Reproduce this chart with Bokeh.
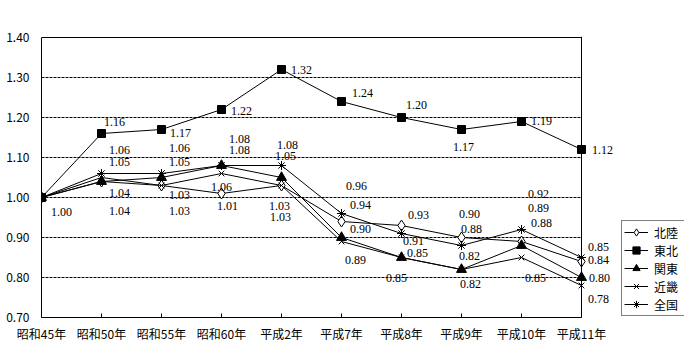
from bokeh.plotting import figure
from bokeh.models import (ColumnDataSource, Range1d, FixedTicker, Legend, LegendItem,
                          NumeralTickFormatter, LabelSet, Span)
from bokeh.embed import file_html
from bokeh.resources import INLINE

categories = ["昭和45年", "昭和50年", "昭和55年", "昭和60年", "平成2年",
              "平成7年", "平成8年", "平成9年", "平成10年", "平成11年"]
hokuriku = [1.00, 1.04, 1.03, 1.01, 1.03, 0.94, 0.93, 0.90, 0.89, 0.84]
tohoku = [1.00, 1.16, 1.17, 1.22, 1.32, 1.24, 1.20, 1.17, 1.19, 1.12]
kanto = [1.00, 1.04, 1.05, 1.08, 1.05, 0.90, 0.85, 0.82, 0.88, 0.80]
kinki = [1.00, 1.05, 1.03, 1.06, 1.03, 0.89, 0.85, 0.82, 0.85, 0.78]
zenkoku = [1.00, 1.06, 1.06, 1.08, 1.08, 0.96, 0.91, 0.88, 0.92, 0.85]
series_names = ["北陸", "東北", "関東", "近畿", "全国"]
y_ticks = [0.70, 0.80, 0.90, 1.00, 1.10, 1.20, 1.30, 1.40]

# label offsets in screen pixels, (right, down); None = label not shown
off_hokuriku = [None, (18, 29), (18, 9), (6, 12), (-2, 20), (19, -17), (17, -11), (8, -24), (17, -34), (17, -2)]
off_tohoku = [(20, 14), (13, -12), (19, 3), (20, 1), (20, 0), (21, -9), (15, -13), (2, 17), (20, -1), (21, 0)]
off_kanto = [None, (18, 11), (18, -16), (18, -16), (4, -22), (19, -9), (16, -5), (8, -14), (20, -23), (18, 0)]
off_kinki = [None, (18, -16), (18, 25), (0, 13), (-1, 31), (14, 18), (-5, 20), (9, 14), (14, 20), (17, 13)]
off_zenkoku = [None, (18, -24), (18, -26), (18, -27), (6, -21), (15, -28), (12, 7), (10, -17), (17, -36), (17, -11)]

# layout (pixels)
W, H = 684, 344
LEFT, TOP, BOTTOM = 41, 36, 317
BOX_RIGHT = 581          # pixel where the last category sits
xs = list(range(len(categories)))
px_per_cat = (BOX_RIGHT - LEFT) / (len(categories) - 1)
x_end = (W - LEFT) / px_per_cat
px_per_unit_y = (BOTTOM - (TOP + 1)) / (y_ticks[-1] - y_ticks[0])
y_end = y_ticks[-1] + 1 / px_per_unit_y

p = figure(width=W, height=H, output_backend="svg", toolbar_location=None,
           x_range=Range1d(0, x_end), y_range=Range1d(y_ticks[0], y_end),
           min_border_left=LEFT, min_border_right=0, min_border_top=TOP,
           min_border_bottom=H - BOTTOM)
p.outline_line_color = None
p.background_fill_color = "white"
p.border_fill_color = "white"

p.xaxis.ticker = FixedTicker(ticks=xs)
p.xaxis.major_label_overrides = {i: c for i, c in enumerate(categories)}
p.xaxis.bounds = (xs[0], xs[-1])
p.xaxis.major_tick_in = 4
p.xaxis.major_tick_out = 0
p.xaxis.major_tick_line_color = "black"
p.xaxis.minor_tick_line_color = None
p.xaxis.major_label_standoff = 7
p.yaxis.ticker = FixedTicker(ticks=y_ticks)
p.yaxis.formatter = NumeralTickFormatter(format="0.00")
p.yaxis.major_tick_line_color = None
p.yaxis.minor_tick_line_color = None
p.yaxis.major_tick_out = 0
p.yaxis.major_tick_in = 0
p.yaxis.major_label_standoff = 12
p.yaxis.bounds = (y_ticks[0], y_ticks[-1])
for ax in (p.xaxis[0], p.yaxis[0]):
    ax.axis_line_color = "black"
    ax.major_label_text_font = "Noto Sans CJK JP"
    ax.major_label_text_font_size = "12px"
    ax.major_label_text_color = "black"

p.xgrid.grid_line_color = None
p.ygrid.grid_line_color = None

# dashed horizontal gridlines restricted to the category span
gy = y_ticks[1:-1]
p.segment(x0=[xs[0]] * len(gy), x1=[xs[-1]] * len(gy), y0=gy, y1=gy,
          line_color="black", line_width=1, line_dash="3 1")
# box: top edge and right edge
p.segment(x0=[xs[0]], x1=[xs[-1]], y0=[y_ticks[-1]], y1=[y_ticks[-1]],
          line_color="black", line_width=1)
p.add_layout(Span(location=xs[-1], dimension="height", line_color="black", line_width=1))

all_series = [hokuriku, tohoku, kanto, kinki, zenkoku]
all_offsets = [off_hokuriku, off_tohoku, off_kanto, off_kinki, off_zenkoku]
markers = [
    dict(marker="diamond", size=11, fill_color="white", line_color="black"),
    dict(marker="square", size=8, fill_color="black", line_color="black"),
    dict(marker="triangle", size=10, fill_color="black", line_color="black"),
    dict(marker="x", size=8, fill_color=None, line_color="black"),
    dict(marker="asterisk", size=9, fill_color=None, line_color="black"),
]

items = []
for name, vals, offs, mk in zip(series_names, all_series, all_offsets, markers):
    src = ColumnDataSource(dict(x=xs, y=vals))
    ln = p.line("x", "y", source=src, line_color="black", line_width=1)
    sc = p.scatter("x", "y", source=src, line_width=1, **mk)
    items.append(LegendItem(label=name, renderers=[ln, sc]))
    lx, ly, lt, ldx, ldy = [], [], [], [], []
    for i, (v, o) in enumerate(zip(vals, offs)):
        if o is None:
            continue
        lx.append(xs[i]); ly.append(v); lt.append(f"{v:.2f}")
        ldx.append(o[0]); ldy.append(-o[1])
    lsrc = ColumnDataSource(dict(x=lx, y=ly, t=lt, dx=ldx, dy=ldy))
    p.add_layout(LabelSet(x="x", y="y", text="t", x_offset="dx", y_offset="dy", source=lsrc,
                          text_font="Noto Sans CJK JP", text_font_size="12px", text_color="black",
                          text_align="center", text_baseline="middle"))

legend = Legend(items=items, location=(580, 1), orientation="vertical",
                border_line_color="black", border_line_width=1,
                background_fill_color="white", background_fill_alpha=1,
                label_text_font="Noto Sans CJK JP", label_text_font_size="12px",
                label_text_color="black", glyph_width=24, glyph_height=18,
                label_height=14, label_width=28, label_standoff=6, spacing=0,
                padding=2, margin=0)
p.add_layout(legend)

open("out.html", "w").write(file_html(p, INLINE))
